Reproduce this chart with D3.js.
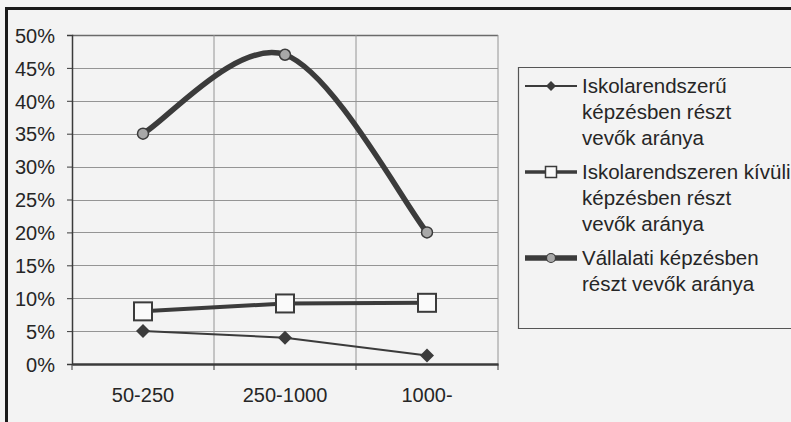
<!DOCTYPE html>
<html>
<head>
<meta charset="utf-8">
<script src="https://cdn.jsdelivr.net/npm/d3@7"></script>
<style>
    body { margin: 0; background: #f3f3f3; }
    svg { display: block; font-family: "Liberation Sans", Arial, sans-serif; }
</style>
</head>
<body>
<div id="chart"></div>
<script>
const categories = ["50-250", "250-1000", "1000-"];
const iskolarendszeru = [0.05, 0.04, 0.013];
const iskolarendszerenKivuli = [0.08, 0.092, 0.093];
const vallalati = [0.35, 0.47, 0.20];
const yTicks = [0, 0.05, 0.10, 0.15, 0.20, 0.25, 0.30, 0.35, 0.40, 0.45, 0.50];
const legendLabels = [
    ["Iskolarendszerű", "képzésben részt", "vevők aránya"],
    ["Iskolarendszeren kívüli", "képzésben részt", "vevők aránya"],
    ["Vállalati képzésben", "részt vevők aránya"]
];

// Excel-like smoothing: Catmull-Rom, end points reuse themselves as neighbour
function smoothPath(pts) {
    const p = d3.path();
    p.moveTo(pts[0][0], pts[0][1]);
    for (let i = 0; i < pts.length - 1; i++) {
        const p0 = pts[Math.max(i - 1, 0)];
        const p1 = pts[i];
        const p2 = pts[i + 1];
        const p3 = pts[Math.min(i + 2, pts.length - 1)];
        p.bezierCurveTo(
            p1[0] + (p2[0] - p0[0]) / 6, p1[1] + (p2[1] - p0[1]) / 6,
            p2[0] - (p3[0] - p1[0]) / 6, p2[1] - (p3[1] - p1[1]) / 6,
            p2[0], p2[1]
        );
    }
    return p.toString();
}

function init() {
    const width = 791;
    const height = 422;
    const plot = { left: 72, top: 35, right: 498, bottom: 364 };
    const ink = "#3b3b3b";
    const textColor = "#262626";

    const svg = d3.select("#chart")
        .append("svg")
        .attr("width", width)
        .attr("height", height);

    // scanned page frame
    svg.append("path")
        .attr("d", `M6.5,${height} V8.5 H${width}`)
        .attr("fill", "none")
        .attr("stroke", "#1a1a1a")
        .attr("stroke-width", 3);

    const x = d3.scaleBand()
        .domain(categories)
        .range([plot.left, plot.right]);

    const y = d3.scaleLinear()
        .domain([0, 0.5])
        .range([plot.bottom, plot.top]);

    // gridlines
    svg.append("g")
        .selectAll("line")
        .data(yTicks.slice(1))
        .join("line")
        .attr("x1", plot.left)
        .attr("x2", plot.right)
        .attr("y1", d => Math.round(y(d)) + 0.5)
        .attr("y2", d => Math.round(y(d)) + 0.5)
        .attr("stroke", d => d === 0.5 ? "#6a6a6a" : "#949494")
        .attr("stroke-width", d => d === 0.5 ? 1.5 : 1);

    svg.append("g")
        .selectAll("line")
        .data(categories.slice(1).concat("end"))
        .join("line")
        .attr("x1", d => d === "end" ? plot.right : x(d))
        .attr("x2", d => d === "end" ? plot.right : x(d))
        .attr("y1", plot.top)
        .attr("y2", plot.bottom)
        .attr("stroke", "#949494");

    // y axis
    const yAxis = svg.append("g")
        .attr("transform", `translate(${plot.left},0)`)
        .call(d3.axisLeft(y).tickValues(yTicks).tickFormat(d3.format(".0%")).tickSize(5).tickPadding(12));
    yAxis.select(".domain").attr("stroke", ink).attr("stroke-width", 1.5);
    yAxis.selectAll(".tick line").attr("stroke", ink);
    yAxis.selectAll("text")
        .attr("font-size", 20)
        .attr("fill", textColor)
        .attr("dy", "0.36em");

    // x axis with ticks between categories
    const xAxis = svg.append("g")
        .attr("transform", `translate(0,${plot.bottom})`)
        .call(d3.axisBottom(x).tickSize(0).tickPadding(24));
    xAxis.select(".domain").attr("stroke", ink).attr("stroke-width", 2.5);
    xAxis.selectAll("text")
        .attr("font-size", 20)
        .attr("fill", textColor);
    xAxis.selectAll(".bound")
        .data(categories.map(c => x(c)).concat(plot.right))
        .join("line")
        .attr("class", "bound")
        .attr("x1", d => d)
        .attr("x2", d => d)
        .attr("y1", 0)
        .attr("y2", 6)
        .attr("stroke", ink);

    const cx = c => x(c) + x.bandwidth() / 2;

    function series(values, opts) {
        const pts = values.map((v, i) => [cx(categories[i]), y(v)]);
        const d = opts.smooth ? smoothPath(pts) : d3.line()(pts);

        svg.append("path")
            .attr("d", d)
            .attr("fill", "none")
            .attr("stroke", ink)
            .attr("stroke-width", opts.width)
            .attr("stroke-linejoin", "round");

        pts.forEach(pt => drawMarker(opts.marker, pt[0], pt[1]));
    }

    function drawMarker(kind, px, py) {
        if (kind === "diamond") {
            svg.append("path")
                .attr("d", `M${px},${py - 7} L${px + 7},${py} L${px},${py + 7} L${px - 7},${py} Z`)
                .attr("fill", ink);
        } else if (kind === "square") {
            svg.append("rect")
                .attr("x", px - 9).attr("y", py - 9)
                .attr("width", 18).attr("height", 18)
                .attr("fill", "#fafafa")
                .attr("stroke", ink)
                .attr("stroke-width", 2);
        } else {
            svg.append("circle")
                .attr("cx", px).attr("cy", py).attr("r", 5.5)
                .attr("fill", "#a8a8a8")
                .attr("stroke", ink)
                .attr("stroke-width", 1.5);
        }
    }

    series(iskolarendszeru, { width: 2, marker: "diamond" });
    series(iskolarendszerenKivuli, { width: 4, marker: "square" });
    series(vallalati, { width: 5.5, marker: "circle", smooth: true });

    // legend, cut off at the right edge like the scan
    svg.append("path")
        .attr("d", `M${width},67.5 H518.5 V328.5 H${width}`)
        .attr("fill", "none")
        .attr("stroke", "#555")
        .attr("stroke-width", 1.2);

    const legendItems = [
        { width: 2, marker: "diamond", y: 86 },
        { width: 3.5, marker: "square", y: 172 },
        { width: 5.5, marker: "circle", y: 258 }
    ];

    legendItems.forEach((item, i) => {
        svg.append("line")
            .attr("x1", 525).attr("x2", 577)
            .attr("y1", item.y).attr("y2", item.y)
            .attr("stroke", ink)
            .attr("stroke-width", item.width);

        if (item.marker === "diamond") {
            svg.append("path")
                .attr("d", `M551,${item.y - 5} L556,${item.y} L551,${item.y + 5} L546,${item.y} Z`)
                .attr("fill", ink);
        } else if (item.marker === "square") {
            svg.append("rect")
                .attr("x", 545.5).attr("y", item.y - 5.5)
                .attr("width", 11).attr("height", 11)
                .attr("fill", "#fafafa")
                .attr("stroke", ink)
                .attr("stroke-width", 1.5);
        } else {
            svg.append("circle")
                .attr("cx", 551).attr("cy", item.y).attr("r", 4.5)
                .attr("fill", "#a8a8a8")
                .attr("stroke", ink)
                .attr("stroke-width", 1.2);
        }

        svg.append("text")
            .attr("x", 582)
            .attr("y", item.y + 7)
            .attr("font-size", 20.5)
            .attr("fill", textColor)
            .selectAll("tspan")
            .data(legendLabels[i])
            .join("tspan")
            .attr("x", 582)
            .attr("dy", (d, j) => j === 0 ? 0 : 26)
            .text(d => d);
    });
}

init();
</script>
</body>
</html>
